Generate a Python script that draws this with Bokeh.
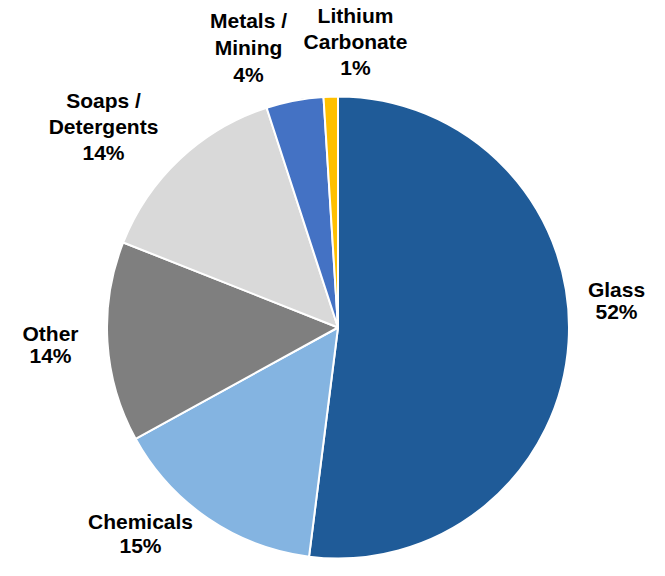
import math
from bokeh.plotting import figure
from bokeh.models import ColumnDataSource, Range1d
from bokeh.core.properties import value
from bokeh.embed import file_html
from bokeh.resources import INLINE

# ---- data ----
categories = ["Glass", "Chemicals", "Other", "Soaps /\nDetergents", "Metals /\nMining", "Lithium\nCarbonate"]
shares = [52, 15, 14, 14, 4, 1]
colors = ["#1F5B98", "#84B4E1", "#7F7F7F", "#D9D9D9", "#4472C4", "#FFC000"]

# ---- layout (picture pixel coordinates) ----
W, H = 649, 560
cx, cy, r = 337.5, 327, 231
label_x = [616, 140, 50, 103, 248, 355]
label_y = [300, 533, 344, 126, 47, 41]
label_lh = [0.97, 1.08, 0.97, 1.15, 1.16, 1.15]

total = sum(shares)
starts, ends = [], []
cum = 0.0
for s in shares:
    a0 = math.pi / 2 - 2 * math.pi * cum / total
    cum += s
    a1 = math.pi / 2 - 2 * math.pi * cum / total
    starts.append(a0)
    ends.append(a1)

src = ColumnDataSource(dict(start=starts, end=ends, color=colors,
                            x=[cx] * len(shares), y=[-cy] * len(shares)))

labels = [f"{c}\n{s}%" for c, s in zip(categories, shares)]
lsrc = ColumnDataSource(dict(x=label_x, y=[-v for v in label_y], text=labels, lh=label_lh))

p = figure(width=W, height=H, output_backend="svg", toolbar_location=None,
           x_range=Range1d(0, W), y_range=Range1d(-H, 0),
           min_border=0, outline_line_color=None)
p.axis.visible = False
p.grid.visible = False
p.background_fill_color = "white"

p.wedge(x="x", y="y", radius=r, start_angle="start", end_angle="end",
        direction="clock", fill_color="color", line_color="white", line_width=2,
        source=src)

p.text(x="x", y="y", text="text", source=lsrc, text_align="center",
       text_baseline="middle", text_font=value("Liberation Sans"),
       text_font_style="bold", text_font_size="21px", text_color="#000000",
       text_line_height="lh")

open("out.html", "w").write(file_html(p, INLINE))
